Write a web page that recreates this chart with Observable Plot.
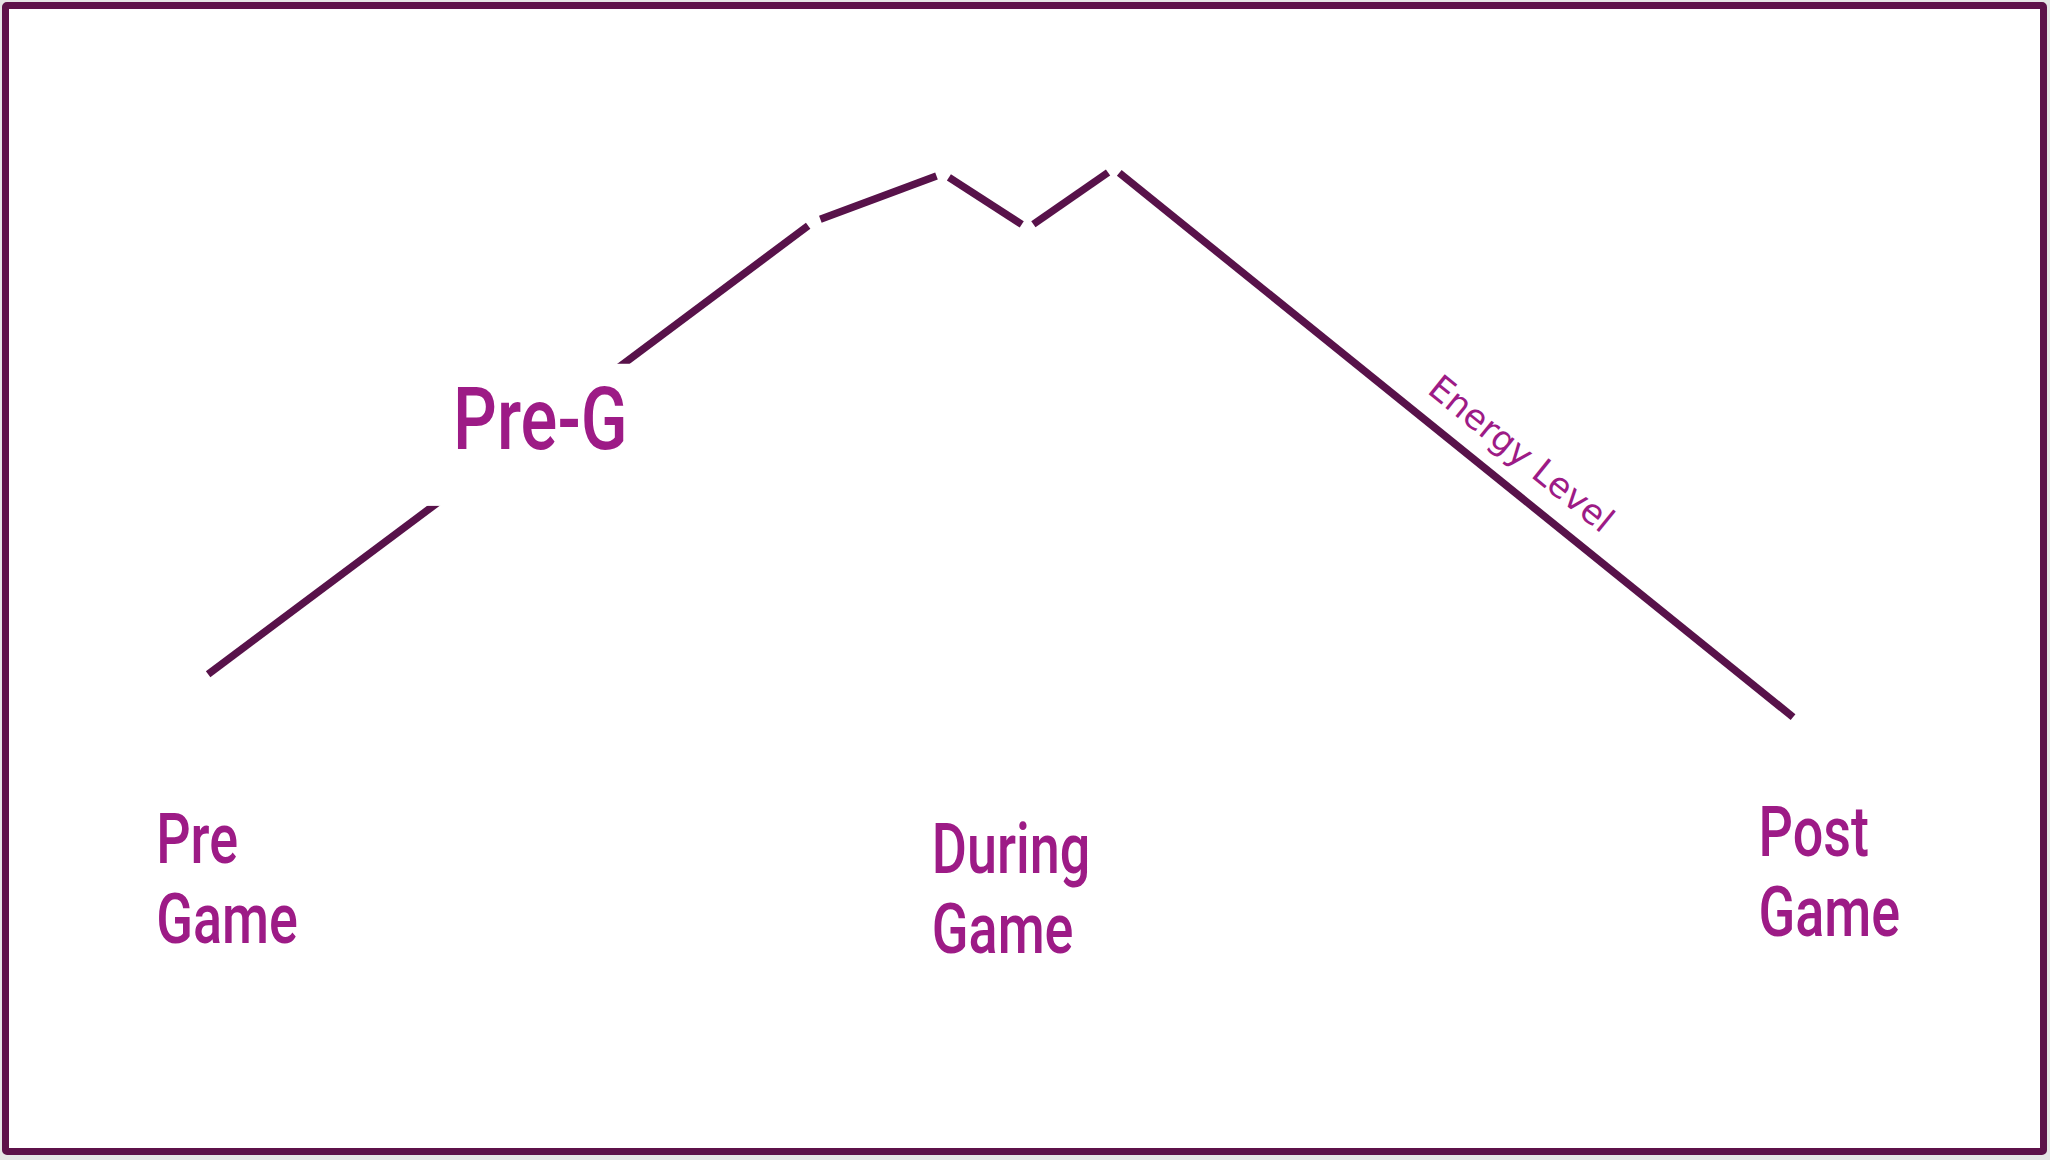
<!DOCTYPE html>
<html>
<head>
<meta charset="utf-8">
<script src="https://cdn.jsdelivr.net/npm/d3@7"></script>
<script src="https://cdn.jsdelivr.net/npm/@observablehq/plot@0.6"></script>
<style>
  html, body { margin: 0; padding: 0; background: #e6e6e6; }
  #frame {
    position: absolute; left: 2px; top: 2px;
    width: 2045px; height: 1153px; box-sizing: border-box;
    border: 7px solid #5e124a; border-radius: 5px;
    background: #ffffff; overflow: hidden;
  }
  #frame svg { display: block; }
</style>
</head>
<body>
<div id="frame"></div>
<script>
// Energy curve (time 0–100, energy 0–100)
const time   = [0, 38.3, 46.4, 51.7, 57.1, 100];
const energy = [7.8, 90.4, 99.1, 89.2, 100, 0];

// Phase labels along the bottom
const phaseNames = ["Pre\nGame", "During\nGame", "Post\nGame"];
const phaseX     = [-2.9, 45.7, 97.5];
const phaseY     = [-40.1, -41.95, -38.7];

// Annotations
const noteText = ["Pre-G"];
const noteX    = [15.7];
const noteY    = [49.2];
const noteBoxX1 = [13.7], noteBoxX2 = [27.4], noteBoxY1 = [38.9], noteBoxY2 = [64.6];

const seriesLabel = ["Energy Level"];
const seriesLabelX = [82.6];
const seriesLabelY = [48.3];

const lineColor = "#58124a";
const textColor = "#9d1b86";

const points = time.map((t, i) => ({t, e: energy[i]}));
const segments = points.slice(0, -1).map((p, i) => ({
  x1: p.t, y1: p.e, x2: points[i + 1].t, y2: points[i + 1].e
}));
const phases = phaseNames.map((name, i) => ({name, x: phaseX[i], y: phaseY[i]}));
const notes = noteText.map((text, i) => ({
  text, x: noteX[i], y: noteY[i],
  x1: noteBoxX1[i], x2: noteBoxX2[i], y1: noteBoxY1[i], y2: noteBoxY2[i]
}));
const seriesLabels = seriesLabel.map((text, i) => ({text, x: seriesLabelX[i], y: seriesLabelY[i]}));

const chart = Plot.plot({
  width: 2031,
  height: 1139,
  marginLeft: 193,
  marginRight: 242,
  marginTop: 159,
  marginBottom: 427,
  x: {domain: [0, 100], axis: null},
  y: {domain: [0, 100], axis: null},
  style: {background: "white", overflow: "visible"},
  marks: [
    Plot.arrow(segments, {
      x1: "x1", y1: "y1", x2: "x2", y2: "y2",
      stroke: lineColor, strokeWidth: 7.5, strokeLinecap: "butt",
      headLength: 0, insetStart: 7, insetEnd: 7
    }),
    Plot.rect(notes, {x1: "x1", x2: "x2", y1: "y1", y2: "y2", fill: "white"}),
    Plot.text(notes, {
      x: "x", y: "y", text: "text", textAnchor: "start", lineAnchor: "bottom",
      fill: textColor, fontSize: 87, fontWeight: 500, fontFamily: "Roboto, sans-serif"
    }),
    Plot.text(phases, {
      x: "x", y: "y", text: "name", textAnchor: "start", lineAnchor: "bottom",
      lineHeight: 80 / 70, fill: textColor, fontSize: 70, fontWeight: 500,
      fontFamily: "Roboto, 'Noto Sans', sans-serif"
    }),
    Plot.text(seriesLabels, {
      x: "x", y: "y", text: "text", rotate: 39,
      fill: textColor, fontSize: 35, fontFamily: "'DejaVu Sans', sans-serif"
    })
  ]
});
document.getElementById("frame").appendChild(chart);

// narrow the DIN-like labels horizontally (the original face is condensed)
const sel = d3.select(chart);
sel.selectAll("g[font-family^='Roboto, sans'] text").attr("transform", function () {
  return this.getAttribute("transform") + " scale(0.79,1)";
});
sel.selectAll("g[font-family*='Noto Sans'] text").attr("transform", function () {
  return this.getAttribute("transform") + " scale(0.77,1)";
});
</script>
</body>
</html>
